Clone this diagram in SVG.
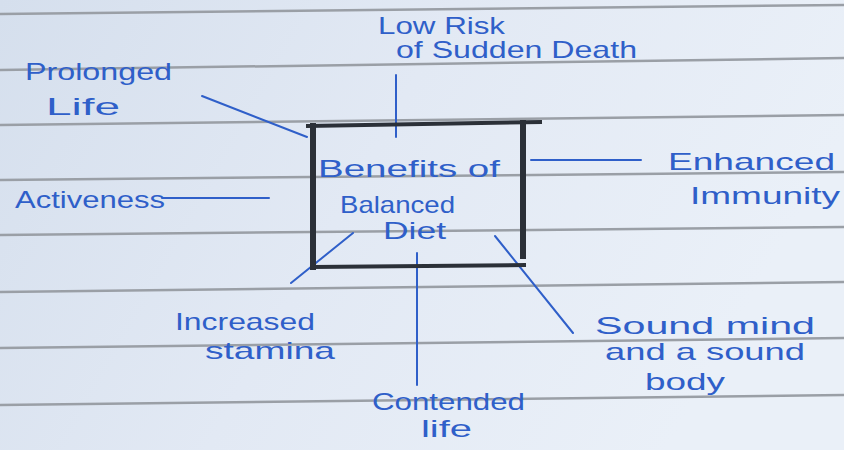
<svg xmlns="http://www.w3.org/2000/svg" width="844" height="450" viewBox="0 0 844 450">
<defs>
<linearGradient id="paper" x1="0" y1="0" x2="1" y2="0.3">
<stop offset="0" stop-color="#d5dfed"/>
<stop offset="0.5" stop-color="#e2e9f4"/>
<stop offset="1" stop-color="#eaf0f8"/>
</linearGradient>
<style>
.rule{stroke:#9a9fa6;stroke-width:2.5;fill:none}
.ink{stroke:#2f5fc9;stroke-width:2;fill:none;stroke-linecap:round}
.t{font-family:"Liberation Sans","DejaVu Sans",sans-serif;fill:#2f5fc9;font-size:24px}
.box{stroke:#2b3038;fill:none;stroke-linecap:square}
</style>
</defs>
<rect width="844" height="450" fill="url(#paper)"/>
<g id="paper-lines">
<line class="rule" x1="0" y1="14" x2="844" y2="5"/>
<line class="rule" x1="0" y1="70" x2="844" y2="58"/>
<line class="rule" x1="0" y1="125" x2="844" y2="115"/>
<line class="rule" x1="0" y1="180" x2="844" y2="172"/>
<line class="rule" x1="0" y1="235" x2="844" y2="227"/>
<line class="rule" x1="0" y1="292" x2="844" y2="282"/>
<line class="rule" x1="0" y1="348" x2="844" y2="338"/>
<line class="rule" x1="0" y1="405" x2="844" y2="395"/>
</g>
<g id="connectors">
<line class="ink" x1="202" y1="96" x2="307" y2="137"/>
<line class="ink" x1="396" y1="75" x2="396" y2="137"/>
<line class="ink" x1="162" y1="198" x2="269" y2="198"/>
<line class="ink" x1="531" y1="160" x2="641" y2="160"/>
<line class="ink" x1="353" y1="233" x2="291" y2="283"/>
<line class="ink" x1="417" y1="253" x2="417" y2="385"/>
<line class="ink" x1="495" y1="236" x2="573" y2="333"/>
</g>
<g id="center">
<line class="box" x1="308" y1="126" x2="540" y2="122" stroke-width="4"/>
<line class="box" x1="313" y1="126" x2="313" y2="267" stroke-width="6"/>
<line class="box" x1="313" y1="267" x2="524" y2="265" stroke-width="4"/>
<line class="box" x1="523" y1="123" x2="523" y2="256" stroke-width="6"/>
<text class="t" x="318" y="177" textLength="182" lengthAdjust="spacingAndGlyphs">Benefits of</text>
<text class="t" x="340" y="213" font-size="21" textLength="115" lengthAdjust="spacingAndGlyphs">Balanced</text>
<text class="t" x="383" y="239" font-size="21" textLength="63" lengthAdjust="spacingAndGlyphs">Diet</text>
</g>
<g id="low-risk">
<text class="t" x="378" y="34" font-size="20" textLength="127" lengthAdjust="spacingAndGlyphs">Low Risk</text>
<text class="t" x="396" y="58" font-size="20" textLength="241" lengthAdjust="spacingAndGlyphs">of Sudden Death</text>
</g>
<g id="prolonged-life">
<text class="t" x="25" y="80" textLength="147" lengthAdjust="spacingAndGlyphs">Prolonged</text>
<text class="t" x="46" y="115" textLength="74" lengthAdjust="spacingAndGlyphs">Life</text>
</g>
<g id="activeness">
<text class="t" x="15" y="208" textLength="150" lengthAdjust="spacingAndGlyphs">Activeness</text>
</g>
<g id="enhanced-immunity">
<text class="t" x="668" y="170" textLength="167" lengthAdjust="spacingAndGlyphs">Enhanced</text>
<text class="t" x="690" y="204" textLength="150" lengthAdjust="spacingAndGlyphs">Immunity</text>
</g>
<g id="increased-stamina">
<text class="t" x="175" y="330" textLength="140" lengthAdjust="spacingAndGlyphs">Increased</text>
<text class="t" x="205" y="359" textLength="130" lengthAdjust="spacingAndGlyphs">stamina</text>
</g>
<g id="contended-life">
<text class="t" x="372" y="410" font-size="22" textLength="153" lengthAdjust="spacingAndGlyphs">Contended</text>
<text class="t" x="421" y="437" font-size="22" textLength="51" lengthAdjust="spacingAndGlyphs">life</text>
</g>
<g id="sound-mind">
<text class="t" x="595" y="334" font-size="22" textLength="220" lengthAdjust="spacingAndGlyphs">Sound mind</text>
<text class="t" x="605" y="360" font-size="22" textLength="200" lengthAdjust="spacingAndGlyphs">and a sound</text>
<text class="t" x="645" y="390" font-size="22" textLength="80" lengthAdjust="spacingAndGlyphs">body</text>
</g>
</svg>
